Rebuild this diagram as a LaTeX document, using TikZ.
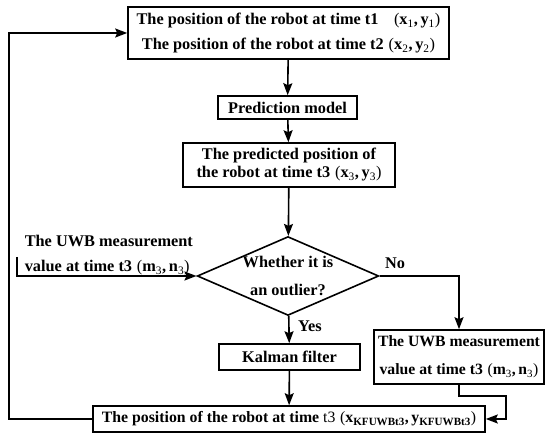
\documentclass[tikz,border=0pt]{standalone}
\usepackage{fontspec}
\setmainfont{Liberation Serif}
\usetikzlibrary{arrows.meta,shapes.geometric,positioning}
\newcommand\lp{\hspace{0.3em}{\mdseries(}}
\newcommand\rp{{\mdseries)}}
\newcommand\bsub[2]{#1\textsubscript{\mdseries #2}}
\begin{document}
\begin{tikzpicture}[x=1pt,y=-1pt,
  line width=1.6pt,
  every node/.style={font=\bfseries\fontsize{16.3}{25}\selectfont},
  box/.style={draw,rectangle,inner sep=0pt,align=center},
  arr/.style={-{Stealth[length=12pt,width=9pt,inset=2pt]}},
  lab/.style={inner sep=0pt}
]
\useasboundingbox (0,0) rectangle (550,438);

\node[box,minimum width=321pt,minimum height=52pt] (top) at (288.5,33)
  {The position of the robot at time t1 \hspace{0.4em}\lp\bsub{x}{1},\,\bsub{y}{1}\rp\\
   The position of the robot at time t2\lp\bsub{x}{2},\,\bsub{y}{2}\rp};
\node[box,minimum width=139pt,minimum height=23pt] (pm) at (287.5,107.5) {Prediction model};
\node[box,minimum width=212pt,minimum height=44pt,
  font=\bfseries\fontsize{16.3}{18}\selectfont] (pred) at (289,165)
  {The predicted position of\\the robot at time t3\lp\bsub{x}{3},\,\bsub{y}{3}\rp};
\node[draw,diamond,aspect=2.3,inner sep=0pt,minimum width=176pt,minimum height=76pt,
  align=center,font=\bfseries\fontsize{16.3}{28}\selectfont] (dia) at (288,276)
  {Whether it is\\an outlier?};
\node[box,minimum width=141pt,minimum height=26pt] (kal) at (289.5,357) {Kalman filter};
\node[box,minimum width=170pt,minimum height=54pt,
  font=\bfseries\fontsize{15.7}{28}\selectfont] (uwbR) at (459,357)
  {The UWB measurement\\value at time t3\lp\bsub{m}{3},\,\bsub{n}{3}\rp};
\node[box,minimum width=392pt,minimum height=26pt,
  font=\bfseries\fontsize{15.8}{18}\selectfont] (bot) at (289,419)
  {The position of the robot at time {\mdseries t3}\lp x\textsubscript{KFUWBt3},\,y\textsubscript{KFUWBt3}\rp};
\node[lab,anchor=west,align=left] (uwbL) at (24,255.5)
  {The UWB measurement\\value at time t3\lp\bsub{m}{3},\,\bsub{n}{3}\rp};
\node[lab] (no) at (395,263) {No};
\node[lab] (yes) at (310,326) {Yes};

\coordinate (inS) at (17,257);
\coordinate (fbx) at (9,0);
\coordinate (rx) at (506,0);

\draw[arr] (top) -- (pm);
\draw[arr] (pm) -- (pred);
\draw[arr] (pred) -- (dia);
\draw[arr] (dia) -- (kal);
\draw[arr] (kal) -- (bot);
\draw[arr] (inS) |- (dia.west);
\draw[arr] (dia.east) -| (uwbR.north);
\draw[arr] (uwbR.south) -- ++(0,11) -| (rx |- bot.east) -- (bot.east);
\draw[arr] (bot.west) -| (fbx |- top.west) -- (top.west);
\end{tikzpicture}
\end{document}
